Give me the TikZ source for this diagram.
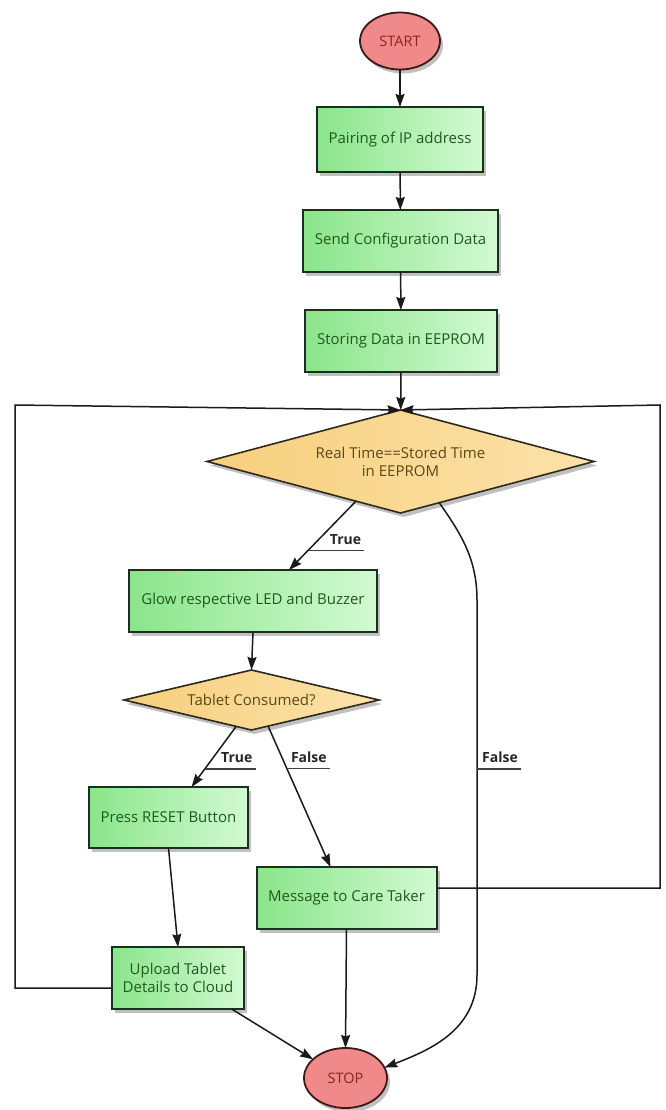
\documentclass[tikz,border=0pt]{standalone}
\usepackage{fontspec}
\setmainfont{Open Sans}
\usetikzlibrary{shapes.geometric,shadows,arrows.meta,calc}

% palette
\definecolor{procA}{HTML}{8AE58A}
\definecolor{procB}{HTML}{D2FAD2}
\definecolor{procline}{HTML}{1C2E1C}
\definecolor{proctext}{HTML}{1E5A1E}
\definecolor{decA}{HTML}{F6CF7C}
\definecolor{decB}{HTML}{FCE2AA}
\definecolor{decline}{HTML}{2E2A1E}
\definecolor{dectext}{HTML}{5A4818}
\definecolor{termfill}{HTML}{F08A8A}
\definecolor{termline}{HTML}{3A1A1A}
\definecolor{termtext}{HTML}{8A2626}
\definecolor{wire}{HTML}{1A1A1A}

\tikzset{
  softshadow/.style={drop shadow={shadow xshift=3pt,shadow yshift=-4pt,opacity=0.35,fill=black!70}},
  proc/.style={rectangle, draw=procline, line width=2pt,
    left color=procA, right color=procB, text=proctext,
    font=\fontsize{15}{18}\selectfont, align=center,
    inner sep=0pt, outer sep=0pt, softshadow},
  decision/.style={diamond, draw=decline, line width=1.6pt,
    left color=decA, right color=decB, text=dectext,
    font=\fontsize{15}{18}\selectfont, align=center,
    inner sep=0pt, outer sep=0pt, softshadow},
  term/.style={ellipse, draw=termline, line width=1.8pt,
    fill=termfill, text=termtext,
    font=\fontsize{14.5}{17}\selectfont,
    minimum width=80pt, minimum height=57pt,
    inner sep=0pt, outer sep=0pt, softshadow},
  arr/.style={draw=wire, line width=1.5pt,
    -{Stealth[length=13pt,width=9pt,inset=1.5pt]}},
  lbl/.style={font=\bfseries\fontsize{14}{16}\selectfont, text=black!85,
    inner xsep=3pt, inner ysep=0pt, anchor=base west},
  uline/.style={draw=black!75, line width=1.5pt},
}

\begin{document}
\begin{tikzpicture}[x=1pt,y=-1pt]
\useasboundingbox[fill=white] (0,0) rectangle (666,1110);

% loop corners
\coordinate (lc) at (15,405);
\coordinate (rc) at (660,405);

% nodes
\node[term] (start) at (400,41) {START};
\node[proc, minimum width=166pt, minimum height=65pt] (pair) at (400,139.5) {Pairing of IP address};
\node[proc, minimum width=195pt, minimum height=62pt] (conf) at (400.5,241) {Send Configuration Data};
\node[proc, minimum width=192pt, minimum height=62pt] (store) at (401,341) {Storing Data in EEPROM};
\node[decision, aspect=3.757, minimum width=387pt, minimum height=103pt] (rt) at (400.5,461.5) {Real Time==Stored Time\\in EEPROM};
\node[proc, minimum width=248pt, minimum height=62pt] (glow) at (253,601) {Glow respective LED and Buzzer};
\node[decision, aspect=4.25, minimum width=255pt, minimum height=60pt] (tab) at (251.5,700) {Tablet Consumed?};
\node[proc, minimum width=159pt, minimum height=61pt] (reset) at (168.5,817.5) {Press RESET Button};
\node[proc, minimum width=180pt, minimum height=62pt] (msg) at (346.5,898) {Message to Care Taker};
\node[proc, minimum width=132pt, minimum height=62pt] (up) at (178,978) {Upload Tablet\\Details to Cloud};
\node[term, minimum width=83pt, minimum height=60pt] (stop) at (345.5,1078) {STOP};

% main chain
\draw[arr] (start) -- (pair);
\draw[arr] (pair) -- (conf);
\draw[arr] (conf) -- (store);
\draw[arr] (store) -- (rt);

% decision: real time
\draw[arr] ($(rt.south)!0.23!(rt.west)$) -- coordinate[pos=0.72] (u1) ([xshift=36pt]glow.north);
\draw[arr] ($(rt.south)!0.2!(rt.east)$) .. controls (462,535) and (477,560) .. (477,600)
  -- coordinate[pos=0.45] (u4) (477,975) .. controls (477,1030) and (430,1050) .. (stop.15);

\draw[arr] (glow.south) -- (tab.north);

% decision: tablet consumed
\draw[arr] ($(tab.south)!0.12!(tab.west)$) -- coordinate[pos=0.70] (u2) ([xshift=23pt]reset.north);
\draw[arr] ($(tab.south)!0.13!(tab.east)$) -- coordinate[pos=0.30] (u3) ([xshift=-16pt]msg.north);

\draw[arr] (reset.south) -- (up.north);
\draw[arr] (msg.south) -- (stop.north);
\draw[arr] (up.-30) -- (stop.150);

% loop back to the time check
\draw[arr] ([yshift=-10pt]up.west) -| (lc) -- (rt.north);
\draw[arr] ([yshift=10pt]msg.east) -| (rc) -- (rt.north);

% underlined edge labels
\node[lbl] (t1) at ([xshift=19pt,yshift=6pt]u1) {True};
\draw[uline] (u1) -- (u1 -| t1.east);
\node[lbl] (t2) at ([xshift=13pt,yshift=6pt]u2) {True};
\draw[uline] (u2) -- (u2 -| t2.east);
\node[lbl] (f1) at ([xshift=1pt,yshift=6pt]u3) {False};
\draw[uline] (u3) -- (u3 -| f1.east);
\node[lbl] (f2) at ([xshift=2pt,yshift=6pt]u4) {False};
\draw[uline] (u4) -- (u4 -| f2.east);
\end{tikzpicture}
\end{document}
